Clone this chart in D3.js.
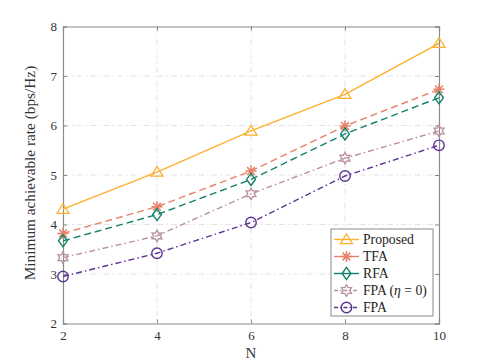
<!DOCTYPE html>
<html>
<head>
<meta charset="utf-8">
<script src="https://cdn.jsdelivr.net/npm/d3@7"></script>
<style>
  body { margin: 0; background: #fff; }
  svg { font-family: "Liberation Serif", "DejaVu Serif", serif; }
</style>
</head>
<body>
<script>
// data
const N = [2, 4, 6, 8, 10];
const proposed = [4.31, 5.06, 5.89, 6.63, 7.66];
const tfa = [3.82, 4.36, 5.08, 5.99, 6.73];
const rfa = [3.67, 4.20, 4.91, 5.83, 6.56];
const fpaEta0 = [3.33, 3.77, 4.62, 5.34, 5.89];
const fpa = [2.95, 3.42, 4.04, 4.98, 5.60];
const xTicks = [2, 4, 6, 8, 10];
const yTicks = [2, 3, 4, 5, 6, 7, 8];

const series = [
  { name: 'Proposed', values: proposed, color: '#fdb02f', dash: null, marker: 'triangle' },
  { name: 'TFA', values: tfa, color: '#e8816a', dash: '7,4', marker: 'asterisk' },
  { name: 'RFA', values: rfa, color: '#11826a', dash: '7,4', marker: 'diamond' },
  { name: 'FPA (η = 0)', values: fpaEta0, color: '#b98fa2', dash: '6,3,1.5,3', marker: 'hexagram' },
  { name: 'FPA', values: fpa, color: '#5e3592', dash: '6,3,1.5,3', marker: 'circle' }
];

const W = 485, H = 363;
const margin = { top: 26.5, right: 46, bottom: 39.5, left: 63 };
const width = W - margin.left - margin.right;
const height = H - margin.top - margin.bottom;

const svg = d3.select('body').append('svg')
  .attr('width', W)
  .attr('height', H);

const g = svg.append('g')
  .attr('transform', `translate(${margin.left},${margin.top})`);

const x = d3.scaleLinear().domain([2, 10]).range([0, width]);
const y = d3.scaleLinear().domain([2, 8]).range([height, 0]);

// grid
g.append('g').selectAll('line').data(xTicks.slice(1, -1)).enter().append('line')
  .attr('x1', d => x(d)).attr('x2', d => x(d))
  .attr('y1', 0).attr('y2', height)
  .attr('stroke', '#e3e3e3').attr('stroke-width', 1)
  .attr('stroke-dasharray', '6,3,1.5,3');
g.append('g').selectAll('line').data(yTicks.slice(1, -1)).enter().append('line')
  .attr('x1', 0).attr('x2', width)
  .attr('y1', d => y(d)).attr('y2', d => y(d))
  .attr('stroke', '#e3e3e3').attr('stroke-width', 1)
  .attr('stroke-dasharray', '6,3,1.5,3');

// axes
const axisColor = '#8a8a8a';
const xAxis = g.append('g')
  .attr('transform', `translate(0,${height})`)
  .call(d3.axisBottom(x).tickValues(xTicks).tickSize(-4).tickPadding(7).tickFormat(d3.format('d')));
const yAxis = g.append('g')
  .call(d3.axisLeft(y).tickValues(yTicks).tickSize(-4).tickPadding(6).tickFormat(d3.format('d')));
const xTop = g.append('g')
  .call(d3.axisTop(x).tickValues(xTicks).tickSize(-4).tickFormat(''));
const yRight = g.append('g')
  .attr('transform', `translate(${width},0)`)
  .call(d3.axisRight(y).tickValues(yTicks).tickSize(-4).tickFormat(''));

[xAxis, yAxis, xTop, yRight].forEach(a => {
  a.attr('font-family', null);
  a.select('.domain').attr('stroke', axisColor).attr('stroke-width', 1.2);
  a.selectAll('.tick line').attr('stroke', axisColor);
  a.selectAll('.tick text').attr('fill', '#333').style('font-size', '13px');
});

// axis labels
svg.append('text')
  .attr('x', margin.left + width / 2)
  .attr('y', H - 5)
  .attr('text-anchor', 'middle')
  .attr('fill', '#333')
  .style('font-size', '15px')
  .text('N');

svg.append('text')
  .attr('transform', `translate(35,${margin.top + height / 2 - 2}) rotate(-90)`)
  .attr('text-anchor', 'middle')
  .attr('fill', '#333')
  .style('font-size', '15.3px')
  .text('Minimum achievable rate (bps/Hz)');

// markers
function drawMarker(sel, type, color) {
  const r = 5.5;
  if (type === 'triangle') {
    sel.append('path').attr('d', `M0,${-r}L${r * 1.1},${r * 0.75}L${-r * 1.1},${r * 0.75}Z`)
      .attr('fill', 'none').attr('stroke', color).attr('stroke-width', 1.3);
  } else if (type === 'asterisk') {
    const p = d3.range(4).map(i => {
      const a = i * Math.PI / 4;
      const c = Math.cos(a) * r, s = Math.sin(a) * r;
      return `M${-c},${-s}L${c},${s}`;
    }).join('');
    sel.append('path').attr('d', p).attr('stroke', color).attr('stroke-width', 1.5).attr('fill', 'none');
  } else if (type === 'diamond') {
    sel.append('path').attr('d', `M0,${-r * 1.1}L${r * 0.8},0L0,${r * 1.1}L${-r * 0.8},0Z`)
      .attr('fill', 'none').attr('stroke', color).attr('stroke-width', 1.4);
  } else if (type === 'hexagram') {
    const pts = d3.range(12).map(i => {
      const a = -Math.PI / 2 + i * Math.PI / 6;
      const rr = i % 2 === 0 ? r * 1.05 : r * 0.6;
      return [Math.cos(a) * rr, Math.sin(a) * rr];
    });
    sel.append('path').attr('d', 'M' + pts.join('L') + 'Z')
      .attr('fill', 'none').attr('stroke', color).attr('stroke-width', 1.3);
  } else if (type === 'circle') {
    sel.append('circle').attr('r', r * 0.95)
      .attr('fill', 'none').attr('stroke', color).attr('stroke-width', 1.4);
  }
}

const line = d3.line()
  .x((d, i) => x(N[i]))
  .y(d => y(d));

series.forEach(s => {
  g.append('path')
    .datum(s.values)
    .attr('d', line)
    .attr('fill', 'none')
    .attr('stroke', s.color)
    .attr('stroke-width', 1.4)
    .attr('stroke-dasharray', s.dash);

  s.values.forEach((v, i) => {
    const m = g.append('g').attr('transform', `translate(${x(N[i])},${y(v)})`);
    drawMarker(m, s.marker, s.color);
  });
});

// legend
const lg = svg.append('g').attr('transform', 'translate(331,229)');
lg.append('rect')
  .attr('width', 102).attr('height', 87)
  .attr('fill', '#fff').attr('stroke', '#8a8a8a').attr('stroke-width', 1);

series.forEach((s, i) => {
  const row = lg.append('g').attr('transform', `translate(0,${10.5 + i * 17})`);
  row.append('line')
    .attr('x1', 3).attr('x2', 28).attr('y1', 0).attr('y2', 0)
    .attr('stroke', s.color).attr('stroke-width', 1.4)
    .attr('stroke-dasharray', s.dash ? (s.dash.split(',').length > 2 ? '4,2,1.5,2' : null) : null);
  drawMarker(row.append('g').attr('transform', 'translate(15.5,0)'), s.marker, s.color);
  const t = row.append('text')
    .attr('x', 32).attr('y', 4.5)
    .attr('fill', '#222')
    .style('font-size', '13.7px');
  if (s.name.indexOf('η') >= 0) {
    t.append('tspan').text('FPA (');
    t.append('tspan').style('font-style', 'italic').text('η');
    t.append('tspan').text(' = 0)');
  } else {
    t.text(s.name);
  }
});
</script>
</body>
</html>
